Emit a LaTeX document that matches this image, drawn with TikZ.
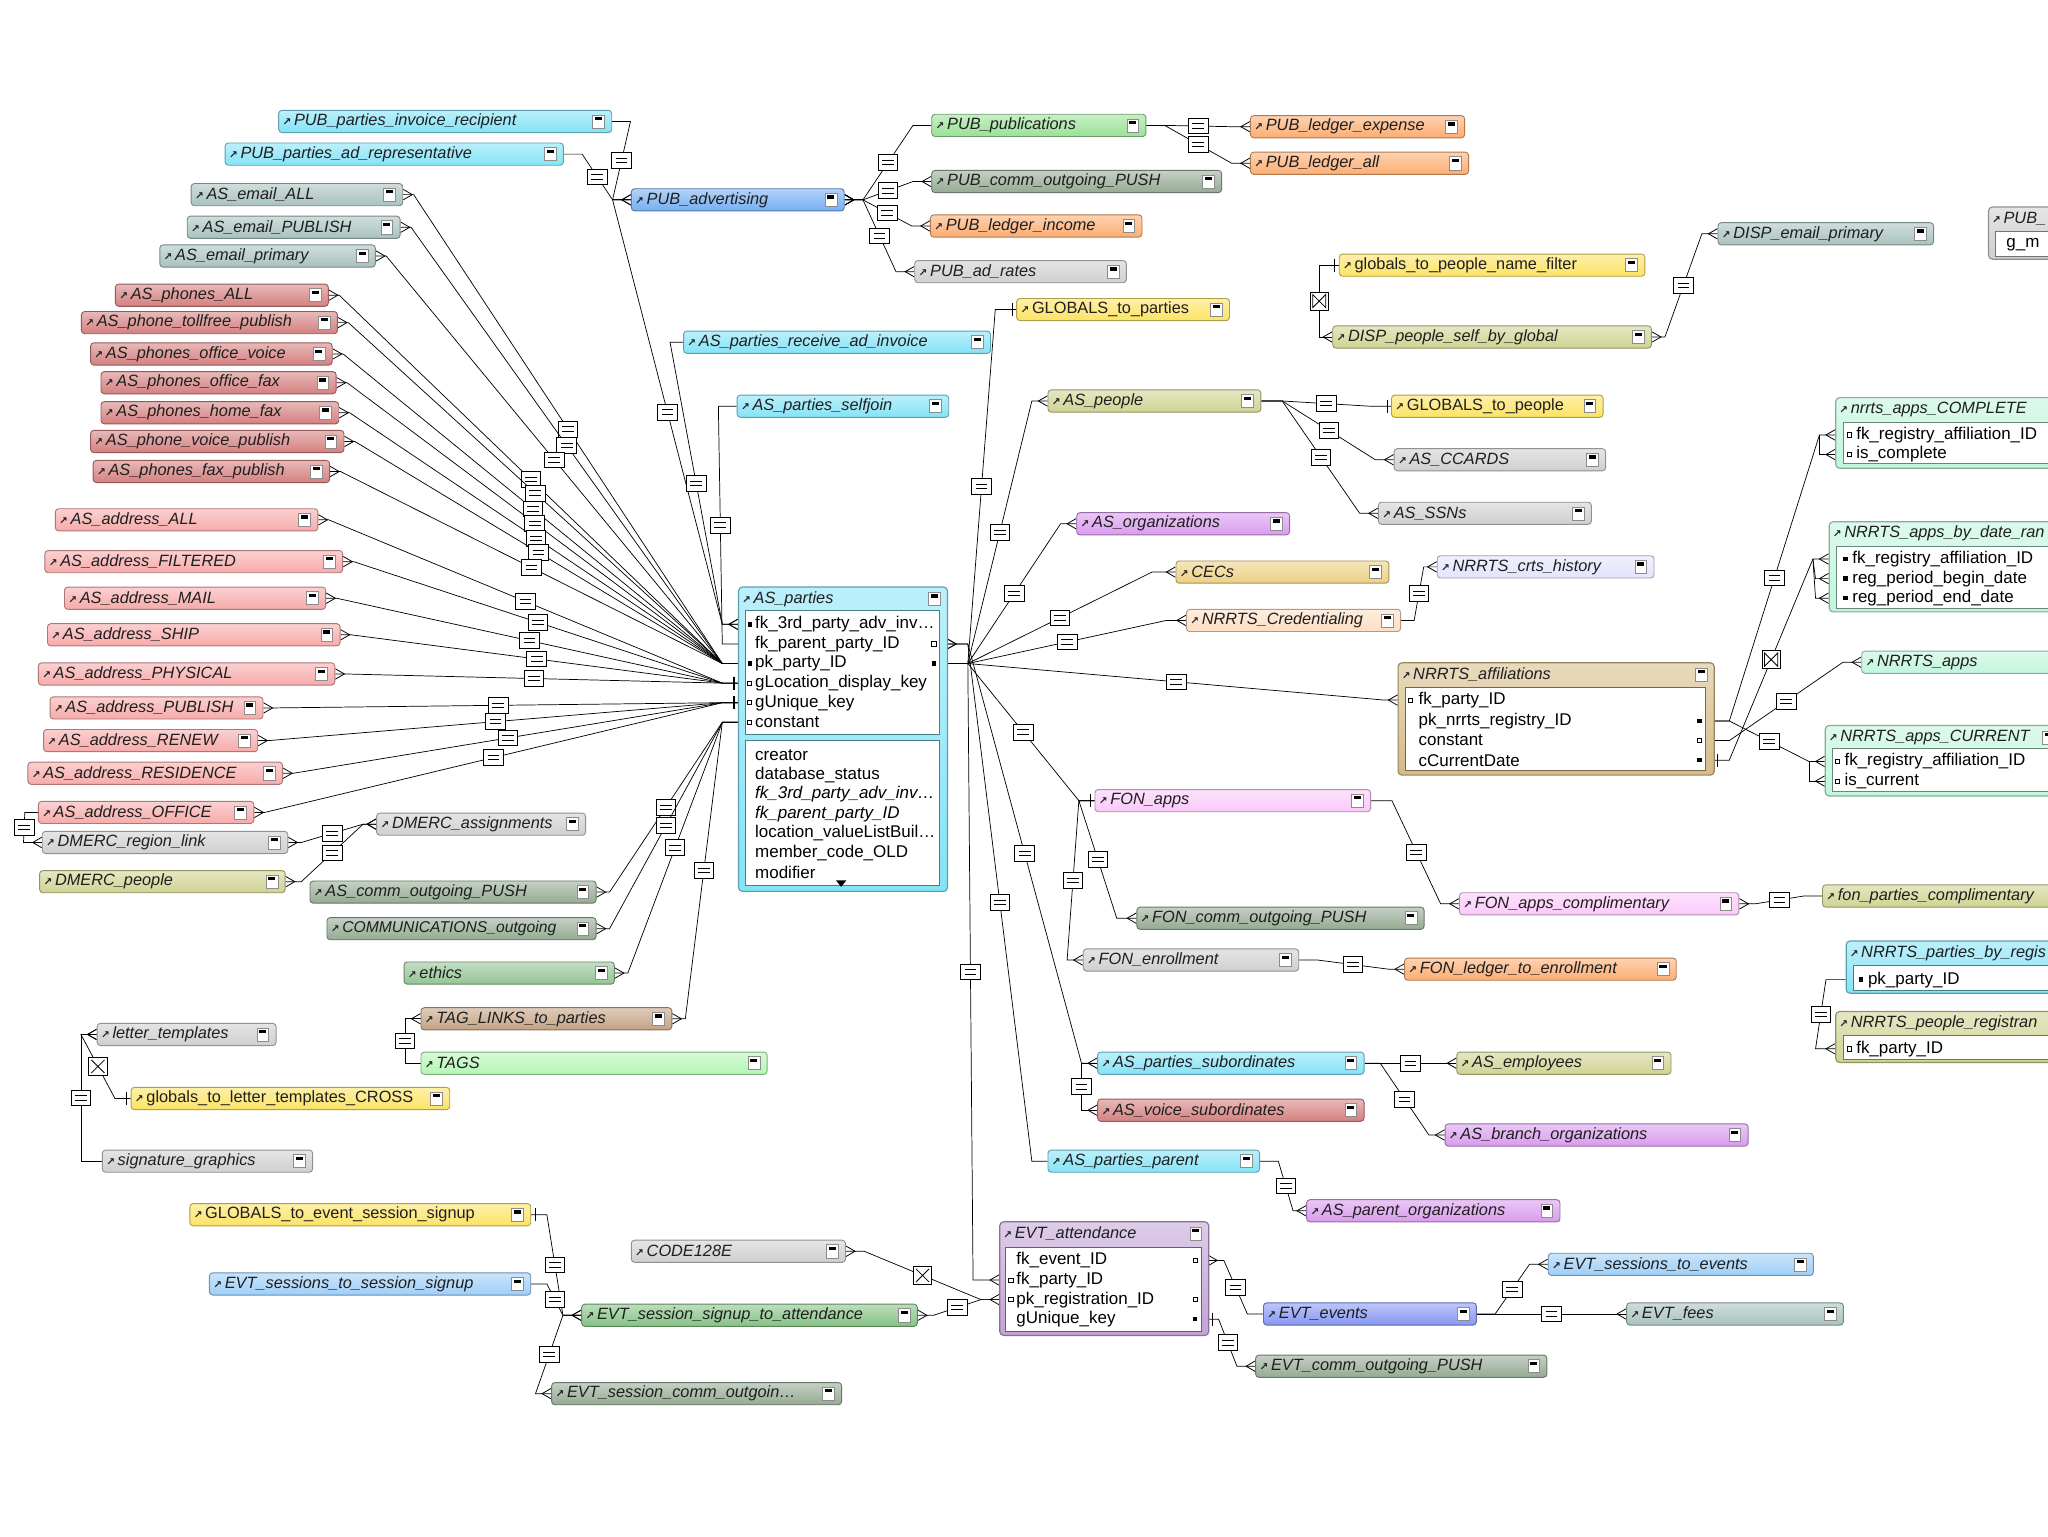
\documentclass[tikz,border=0pt]{standalone}
\usepackage{fontspec}
\setmainfont{Liberation Sans}
\newfontfamily\djv{DejaVu Sans}
\usetikzlibrary{calc}
\pgfdeclarelayer{bg}
\pgfsetlayers{bg,main}
\newcounter{rc}
\newcounter{fc}
\definecolor{cCyan}{HTML}{84E3F7}
\definecolor{cBlue}{HTML}{76AEF2}
\definecolor{cTeal}{HTML}{A8C2BF}
\definecolor{cRed}{HTML}{D4807F}
\definecolor{cPink}{HTML}{F7AAAA}
\definecolor{cGrey}{HTML}{CFCFCF}
\definecolor{cOlive}{HTML}{D0D392}
\definecolor{cDkGreen}{HTML}{95AA93}
\definecolor{cGreen}{HTML}{94C494}
\definecolor{cBrown}{HTML}{C4A284}
\definecolor{cLtGreen}{HTML}{B5F6B5}
\definecolor{cYellow}{HTML}{FCE364}
\definecolor{cLtBlue}{HTML}{9ECFF8}
\definecolor{cSigGreen}{HTML}{84C384}
\definecolor{cPubGreen}{HTML}{9AE197}
\definecolor{cOrange}{HTML}{FCAD72}
\definecolor{cPurple}{HTML}{D99BEE}
\definecolor{cCEC}{HTML}{EDD083}
\definecolor{cPeach}{HTML}{FDDEC3}
\definecolor{cLav}{HTML}{E3E3FE}
\definecolor{cTan}{HTML}{D5BC87}
\definecolor{cMint}{HTML}{C0F6DC}
\definecolor{cFon}{HTML}{FBC9FA}
\definecolor{cEvtP}{HTML}{C2A3D6}
\definecolor{cEvtE}{HTML}{8797F4}
\newcommand\nfont{\fontsize{12.5}{14}\selectfont\itshape}
\newcommand\ufont{\fontsize{12.5}{14}\selectfont\upshape}
\newcommand\ffont{\fontsize{13}{15}\selectfont\upshape}
\newcommand\fifont{\fontsize{13}{15}\selectfont\itshape}
\newcommand\ico{{\djv\fontsize{8}{8}\selectfont\bfseries\upshape ↗}}
\newcommand\minusicon[1]{%
 \draw[fill=white,draw=black!45,line width=0.4pt] ([xshift=-15pt,yshift=5pt]#1) rectangle ([xshift=-6pt,yshift=-5pt]#1);%
 \fill[black] ([xshift=-13.2pt,yshift=3.4pt]#1) rectangle ([xshift=-7.8pt,yshift=0.9pt]#1);}
\newcommand\T[7][]{\node[tb=#6,#1] (#2) at (#3,#5) {\makebox[\dimexpr#4pt-#3pt-6pt\relax][l]{\ico\,#7}};\minusicon{#2.east}}
\newcommand\TT[7]{\node[ttb=#6,minimum width={#3-#2},minimum height={#5-#4}] (#1) at (#2,#4) {};%
 \node[hdr] (#1h) at (#2+3,#4+9.5) {\ico\,#7};\coordinate (#1m) at ($(#1.north east)+(0,9.5)$);\minusicon{#1m}}
\newcommand\panel[5]{\draw[fill=white,draw=#5!55!black,line width=0.5pt] (#1,#2) rectangle (#3,#4);}
\newcommand\F[4][]{\stepcounter{fc}\node[fld,#1] (fld\arabic{fc}) at (#2,#3) {#4};}
\newcommand\mkf[2]{\fill[black] (#1-1.7,#2-1.7) rectangle (#1+1.7,#2+1.7);}
\newcommand\mko[2]{\draw[fill=white,line width=0.6pt] (#1-1.6,#2-1.6) rectangle (#1+1.6,#2+1.6);}
\newcommand\R[7][eqbox]{\stepcounter{rc}\begin{pgfonlayer}{bg}%
 \draw[rl] (#2) -- ++(#3,0) -- node[#1] (rel\arabic{rc}) {} ($(#4)+(#5,0)$) -- (#4);%
 \pic[xscale={#3/abs(#3)}] at (#2) {e#6};\pic[xscale={#5/abs(#5)}] at (#4) {e#7};\end{pgfonlayer}}
\tikzset{
 tb/.style={rectangle,rounded corners=2.5pt,draw=#1!70!black,line width=0.7pt,top color=#1!55!white,bottom color=#1,minimum height=17pt,inner xsep=3pt,inner ysep=0pt,anchor=west,font=\nfont,text=black!88},
 ttb/.style={rectangle,rounded corners=3pt,draw=#1!70!black,line width=0.9pt,top color=#1!55!white,bottom color=#1,anchor=north west,inner sep=0pt},
 hdr/.style={anchor=west,inner sep=0pt,font=\nfont,text=black!88},
 fld/.style={anchor=west,inner sep=0pt,font=\ffont,text=black},
 rl/.style={draw=black,line width=0.55pt},
 eqbox/.style={rectangle,draw=black,fill=white,line width=0.6pt,minimum width=15pt,minimum height=12pt,inner sep=0pt,
  path picture={\draw[line width=0.6pt] ([xshift=-4.5pt,yshift=1.7pt]path picture bounding box.center) -- ++(9pt,0pt) ([xshift=-4.5pt,yshift=-1.7pt]path picture bounding box.center) -- ++(9pt,0pt);}},
 xbox/.style={rectangle,draw=black,fill=white,line width=0.6pt,minimum width=14pt,minimum height=14pt,inner sep=0pt,
  path picture={\draw[line width=0.6pt] ([xshift=2pt,yshift=-2pt]path picture bounding box.north west) -- ([xshift=-2pt,yshift=2pt]path picture bounding box.south east) ([xshift=-2pt,yshift=-2pt]path picture bounding box.north east) -- ([xshift=2pt,yshift=2pt]path picture bounding box.south west);}},
 bowbox/.style={rectangle,draw=black,fill=white,line width=0.6pt,minimum width=14pt,minimum height=14pt,inner sep=0pt,
  path picture={\draw[line width=0.6pt] ([xshift=2pt,yshift=-2pt]path picture bounding box.north west) -- ([xshift=-2pt,yshift=2pt]path picture bounding box.south east) -- ([xshift=-2pt,yshift=-2pt]path picture bounding box.north east) -- ([xshift=2pt,yshift=2pt]path picture bounding box.south west) -- cycle;}},
 ec/.pic={\draw[line width=0.6pt] (0,-4) -- (7,0) -- (0,4);},
 eb/.pic={\draw[line width=0.9pt] (3,-5) -- (3,5);},
 en/.pic={},
}
\begin{document}
\begin{tikzpicture}[x=1pt,y=-1pt]
\useasboundingbox (0,0) rectangle (1568,1176);
\begin{pgfonlayer}{bg}\fill[white] (0,0) rectangle (1568,1176);\end{pgfonlayer}
% ---------- left column
\T{pubInv}{213}{468}{93}{cCyan}{PUB\_parties\_invoice\_recipient}
\T{pubAdRep}{172}{431}{118}{cCyan}{PUB\_parties\_ad\_representative}
\T{emailALL}{146}{308}{149}{cTeal}{AS\_email\_ALL}
\T{emailPUB}{143}{306}{174}{cTeal}{AS\_email\_PUBLISH}
\T{emailPri}{122}{287}{196}{cTeal}{AS\_email\_primary}
\T{phALL}{88}{251}{226}{cRed}{AS\_phones\_ALL}
\T{phToll}{62}{258}{247}{cRed}{AS\_phone\_tollfree\_publish}
\T{phOV}{69}{254}{271}{cRed}{AS\_phones\_office\_voice}
\T{phOF}{77}{257}{293}{cRed}{AS\_phones\_office\_fax}
\T{phHF}{77}{259}{316}{cRed}{AS\_phones\_home\_fax}
\T{phVP}{69}{263}{338}{cRed}{AS\_phone\_voice\_publish}
\T{phFP}{71}{252}{361}{cRed}{AS\_phones\_fax\_publish}
\T{adALL}{42}{243}{398}{cPink}{AS\_address\_ALL}
\T{adFIL}{34}{262}{430}{cPink}{AS\_address\_FILTERED}
\T{adMAIL}{49}{249}{458}{cPink}{AS\_address\_MAIL}
\T{adSHIP}{36}{260}{486}{cPink}{AS\_address\_SHIP}
\T{adPHY}{29}{256}{516}{cPink}{AS\_address\_PHYSICAL}
\T{adPUB}{38}{201}{542}{cPink}{AS\_address\_PUBLISH}
\T{adREN}{33}{197}{567}{cPink}{AS\_address\_RENEW}
\T{adRES}{21}{216}{592}{cPink}{AS\_address\_RESIDENCE}
\T{adOFF}{29}{194}{622}{cPink}{AS\_address\_OFFICE}
\T{dmRL}{32}{220}{645}{cGrey}{DMERC\_region\_link}
\T{dmPeo}{30}{218}{675}{cOlive}{DMERC\_people}
\T{dmAsg}{288}{448}{631}{cGrey}{DMERC\_assignments}
\T{asComm}{237}{456}{683}{cDkGreen}{AS\_comm\_outgoing\_PUSH}
\T[font=\fontsize{12}{14}\selectfont\itshape]{commOut}{250}{456}{711}{cDkGreen}{COMMUNICATIONS\_outgoing}
\T{ethics}{309}{470}{745}{cGreen}{ethics}
\T{tagLinks}{322}{514}{780}{cBrown}{TAG\_LINKS\_to\_parties}
\T{tags}{322}{587}{814}{cLtGreen}{TAGS}
\T{letterT}{74}{211}{792}{cGrey}{letter\_templates}
\T[font=\ufont]{glLetter}{100}{344}{841}{cYellow}{globals\_to\_letter\_templates\_CROSS}
\T{sigG}{78}{239}{889}{cGrey}{signature\_graphics}
\T[font=\ufont]{glEvt}{145}{406}{930}{cYellow}{GLOBALS\_to\_event\_session\_signup}
\T{evtSSS}{160}{406}{983}{cLtBlue}{EVT\_sessions\_to\_session\_signup}
\T{evtSSA}{445}{702}{1007}{cSigGreen}{EVT\_session\_signup\_to\_attendance}
\T{evtSCO}{422}{644}{1067}{cDkGreen}{EVT\_session\_comm\_outgoin…}
\T{code128}{483}{647}{958}{cGrey}{CODE128E}
% ---------- top middle
\T{pubAdv}{483}{646}{153}{cBlue}{PUB\_advertising}
\T{pubPub}{713}{877}{96}{cPubGreen}{PUB\_publications}
\T{pubComm}{713}{935}{139}{cDkGreen}{PUB\_comm\_outgoing\_PUSH}
\T{pubLI}{712}{874}{173}{cOrange}{PUB\_ledger\_income}
\T{pubRates}{700}{862}{208}{cGrey}{PUB\_ad\_rates}
\T{pubLE}{957}{1121}{97}{cOrange}{PUB\_ledger\_expense}
\T{pubLA}{957}{1124}{125}{cOrange}{PUB\_ledger\_all}
\T{recvInv}{523}{758}{262}{cCyan}{AS\_parties\_receive\_ad\_invoice}
\T{selfjoin}{564}{726}{311}{cCyan}{AS\_parties\_selfjoin}
\T[font=\ufont]{glParties}{778}{941}{237}{cYellow}{GLOBALS\_to\_parties}
\T[font=\ufont]{glNameF}{1025}{1259}{203}{cYellow}{globals\_to\_people\_name\_filter}
\T{dispSelf}{1020}{1264}{258}{cOlive}{DISP\_people\_self\_by\_global}
\T{dispEmail}{1315}{1480}{179}{cTeal}{DISP\_email\_primary}
% ---------- right of centre
\T{people}{802}{965}{307}{cOlive}{AS\_people}
\T[font=\ufont]{glPeople}{1065}{1227}{311}{cYellow}{GLOBALS\_to\_people}
\T{ccards}{1067}{1229}{352}{cGrey}{AS\_CCARDS}
\T{ssns}{1055}{1218}{393}{cGrey}{AS\_SSNs}
\T{orgs}{824}{987}{401}{cPurple}{AS\_organizations}
\T{cecs}{900}{1063}{438}{cCEC}{CECs}
\T{cred}{908}{1072}{475}{cPeach}{NRRTS\_Credentialing}
\T{crts}{1100}{1266}{434}{cLav}{NRRTS\_crts\_history}
\T{fonApps}{838}{1049}{613}{cFon}{FON\_apps}
\T{fonComm}{870}{1090}{703}{cDkGreen}{FON\_comm\_outgoing\_PUSH}
\T{fonComp}{1117}{1331}{692}{cFon}{FON\_apps\_complimentary}
\T{fonpc}{1395}{1640}{686}{cOlive}{fon\_parties\_complimentary}
\T{fonEnr}{829}{994}{735}{cGrey}{FON\_enrollment}
\T{fonLedger}{1075}{1283}{742}{cOrange}{FON\_ledger\_to\_enrollment}
\T{subs}{840}{1044}{814}{cCyan}{AS\_parties\_subordinates}
\T{emps}{1115}{1279}{814}{cOlive}{AS\_employees}
\T{vsubs}{840}{1044}{850}{cRed}{AS\_voice\_subordinates}
\T{branch}{1106}{1338}{869}{cPurple}{AS\_branch\_organizations}
\T{parent}{802}{964}{889}{cCyan}{AS\_parties\_parent}
\T{parentOrg}{1000}{1194}{927}{cPurple}{AS\_parent\_organizations}
\T{evtEvents}{967}{1130}{1006}{cEvtE}{EVT\_events}
\T{evtSTE}{1185}{1388}{968}{cLtBlue}{EVT\_sessions\_to\_events}
\T{evtFees}{1245}{1411}{1006}{cTeal}{EVT\_fees}
\T{evtComm}{961}{1184}{1046}{cDkGreen}{EVT\_comm\_outgoing\_PUSH}
\T{napps}{1425}{1640}{507}{cMint}{NRRTS\_apps}
% ---------- tables with fields
\TT{parties}{565}{725}{449}{682}{cCyan}{AS\_parties}
\panel{571}{467}{719}{562}{cCyan}
\panel{571}{567}{719}{678}{cCyan}
\F{578}{478}{fk\_3rd\_party\_adv\_inv…}
\F{578}{493}{fk\_parent\_party\_ID}
\F{578}{508}{pk\_party\_ID}
\F{578}{523}{gLocation\_display\_key}
\F{578}{538}{gUnique\_key}
\F{578}{553}{constant}
\F{578}{578}{creator}
\F{578}{593}{database\_status}
\F[font=\fifont]{578}{608}{fk\_3rd\_party\_adv\_inv…}
\F[font=\fifont]{578}{623}{fk\_parent\_party\_ID}
\F{578}{638}{location\_valueListBuil…}
\F{578}{653}{member\_code\_OLD}
\F{578}{668}{modifier}
\mkf{574}{478}\mkf{574}{508}\mko{574}{523}\mko{574}{538}\mko{574}{553}
\mko{715}{493}\mkf{715}{508}
\fill[black] (640,674) -- (648,674) -- (644,679) -- cycle;
\TT{affil}{1070}{1312}{507}{593}{cTan}{NRRTS\_affiliations}
\panel{1076}{526}{1306}{590}{cTan}
\F{1086}{536}{fk\_party\_ID}
\F{1086}{552}{pk\_nrrts\_registry\_ID}
\F{1086}{567}{constant}
\F{1086}{582}{cCurrentDate}
\mko{1080}{536}\mkf{1301}{552}\mko{1301}{567}\mkf{1301}{582}
\TT{attend}{765}{925}{935}{1022}{cEvtP}{EVT\_attendance}
\panel{770}{955}{920}{1019}{cEvtP}
\F{778}{965}{fk\_event\_ID}
\F{778}{980}{fk\_party\_ID}
\F{778}{995}{pk\_registration\_ID}
\F{778}{1010}{gUnique\_key}
\mko{915}{965}\mko{774}{980}\mko{774}{995}\mko{915}{995}\mkf{915}{1010}
\TT{complete}{1405}{1620}{304}{358}{cMint}{nrrts\_apps\_COMPLETE}
\panel{1411}{323}{1615}{355}{cMint}
\F{1421}{333}{fk\_registry\_affiliation\_ID}
\F{1421}{348}{is\_complete}
\mko{1416}{333}\mko{1416}{348}
\TT{bydate}{1400}{1620}{399}{468}{cMint}{NRRTS\_apps\_by\_date\_ran}
\panel{1406}{418}{1615}{466}{cMint}
\F{1418}{428}{fk\_registry\_affiliation\_ID}
\F{1418}{443}{reg\_period\_begin\_date}
\F{1418}{458}{reg\_period\_end\_date}
\mkf{1413}{428}\mkf{1413}{443}\mkf{1413}{458}
\TT{current}{1397}{1578}{555}{609}{cMint}{NRRTS\_apps\_CURRENT}
\panel{1403}{573}{1615}{606}{cMint}
\F{1412}{583}{fk\_registry\_affiliation\_ID}
\F{1412}{598}{is\_current}
\mko{1407}{583}\mko{1407}{598}
\TT{pbyreg}{1413}{1620}{720}{760}{cCyan}{NRRTS\_parties\_by\_regis}
\panel{1419}{739}{1615}{758}{cCyan}
\F{1430}{750}{pk\_party\_ID}
\mkf{1425}{750}
\TT{preg}{1405}{1620}{774}{813}{cOlive}{NRRTS\_people\_registran}
\panel{1411}{793}{1615}{811}{cOlive}
\F{1421}{803}{fk\_party\_ID}
\mko{1416}{803}
\TT{pubx}{1522}{1620}{158}{198}{cGrey}{PUB\_}
\panel{1528}{177}{1615}{196}{cGrey}
\F{1536}{187}{g\_m}
% ---------- field coordinates
\coordinate (pL1) at (565,478);\coordinate (pL2) at (565,493);\coordinate (pL3) at (565,508);
\coordinate (pL4) at (565,523);\coordinate (pL5) at (565,538);\coordinate (pL6) at (565,553);
\coordinate (pR2) at (725,493);\coordinate (pR3) at (725,508);
\coordinate (aL1) at (1070,536);\coordinate (aR2) at (1312,552);\coordinate (aR3) at (1312,567);\coordinate (aR4) at (1312,582);
\coordinate (eR1) at (925,965);\coordinate (eL2) at (765,980);\coordinate (eL3) at (765,995);\coordinate (eR4) at (925,1010);
\coordinate (cL1) at (1405,333);\coordinate (cL2) at (1405,348);
\coordinate (dL1) at (1400,428);\coordinate (dL2) at (1400,443);\coordinate (dL3) at (1400,458);
\coordinate (uL1) at (1397,583);\coordinate (uL2) at (1397,598);
\coordinate (bL1) at (1413,750);\coordinate (gL1) at (1405,803);
% ---------- relationships: left hub
\R{emailALL.east}{8}{pL3}{-12}{c}{n}
\R{emailPUB.east}{8}{pL3}{-12}{c}{n}
\R{emailPri.east}{8}{pL3}{-12}{c}{n}
\R{phALL.east}{8}{pL3}{-12}{c}{n}
\R{phToll.east}{8}{pL3}{-12}{c}{n}
\R{phOV.east}{8}{pL3}{-12}{c}{n}
\R{phOF.east}{8}{pL3}{-12}{c}{n}
\R{phHF.east}{8}{pL3}{-12}{c}{n}
\R{phVP.east}{8}{pL3}{-12}{c}{n}
\R{phFP.east}{8}{pL3}{-12}{c}{n}
\R{adALL.east}{8}{pL4}{-12}{c}{b}
\R{adFIL.east}{8}{pL4}{-12}{c}{b}
\R{adMAIL.east}{8}{pL4}{-12}{c}{b}
\R{adSHIP.east}{8}{pL4}{-12}{c}{b}
\R{adPHY.east}{8}{pL4}{-12}{c}{b}
\R{adPUB.east}{8}{pL5}{-12}{c}{b}
\R{adREN.east}{8}{pL5}{-12}{c}{b}
\R{adRES.east}{8}{pL5}{-12}{c}{b}
\R{adOFF.east}{8}{pL5}{-12}{c}{b}
\R{asComm.east}{10}{pL6}{-12}{c}{n}
\R{commOut.east}{10}{pL6}{-12}{c}{n}
\R{ethics.east}{10}{pL6}{-12}{c}{n}
\R{tagLinks.east}{10}{pL6}{-12}{c}{n}
\R{pubAdv.west}{-14}{pL1}{-12}{n}{c}
\R{recvInv.west}{-10}{pL1}{-12}{n}{c}
\R{selfjoin.west}{-14}{pL2}{-12}{n}{n}
\R{pubInv.east}{14}{pubAdv.west}{-14}{n}{c}
\R{pubAdRep.east}{14}{pubAdv.west}{-14}{n}{c}
% ---------- right hub
\R{pR3}{16}{glParties.west}{-16}{n}{b}
\R{pR3}{16}{people.west}{-12}{n}{c}
\R{pR3}{16}{orgs.west}{-12}{n}{c}
\R{pR3}{16}{cecs.west}{-18}{n}{c}
\R{pR3}{16}{cred.west}{-15}{n}{c}
\R{pR3}{16}{aL1}{-10}{n}{c}
\R{pR3}{16}{fonApps.west}{-12}{n}{b}
\R{pR2}{16}{subs.west}{-12}{c}{c}
\R{pR2}{16}{parent.west}{-12}{c}{n}
\R{pR3}{16}{eL2}{-20}{n}{c}
\R{subs.west}{-12}{vsubs.west}{-12}{n}{c}
\R{fonApps.west}{-12}{fonComm.west}{-15}{n}{c}
\R{fonApps.west}{-12}{fonEnr.west}{-12}{n}{c}
\R{fonApps.east}{16}{fonComp.west}{-14}{n}{c}
\R{fonComp.east}{12}{fonpc.west}{-14}{c}{n}
\R{fonEnr.east}{14}{fonLedger.west}{-12}{n}{c}
\R{people.east}{16}{glPeople.west}{-16}{n}{b}
\R{people.east}{16}{ccards.west}{-14}{n}{c}
\R{people.east}{16}{ssns.west}{-14}{n}{c}
\R{cred.east}{10}{crts.west}{-10}{n}{c}
\R[bowbox]{glNameF.west}{-15}{dispSelf.west}{-10}{b}{c}
\R{dispSelf.east}{10}{dispEmail.west}{-12}{c}{c}
\R{pubAdv.east}{14}{pubPub.west}{-14}{c}{n}
\R{pubAdv.east}{14}{pubComm.west}{-14}{c}{c}
\R{pubAdv.east}{14}{pubLI.west}{-14}{c}{c}
\R{pubAdv.east}{14}{pubRates.west}{-14}{c}{c}
\R{pubPub.east}{14}{pubLE.west}{-14}{n}{c}
\R{pubPub.east}{14}{pubLA.west}{-14}{n}{c}
\R{subs.east}{12}{emps.west}{-12}{n}{c}
\R{subs.east}{12}{branch.west}{-12}{n}{c}
\R{parent.east}{14}{parentOrg.west}{-10}{n}{c}
\R{aR2}{12}{cL1}{-12}{n}{c}
\R[bowbox]{aR4}{12}{dL1}{-12}{b}{c}
\R{aR3}{12}{napps.west}{-14}{n}{c}
\R{aR2}{12}{uL1}{-12}{n}{c}
\R{bL1}{-15}{gL1}{-15}{n}{c}
\begin{pgfonlayer}{bg}
\draw[rl] ($(cL1)+(-12,0)$) -- ($(cL2)+(-12,0)$) -- (cL2);
\draw[rl] ($(dL1)+(-12,0)$) -- ($(dL2)+(-10,0)$) -- (dL2);
\draw[rl] ($(dL1)+(-12,0)$) -- ($(dL3)+(-10,0)$) -- (dL3);
\draw[rl] ($(uL1)+(-12,0)$) -- ($(uL2)+(-12,0)$) -- (uL2);
\pic[xscale=-1] at (cL2) {ec};\pic[xscale=-1] at (dL2) {ec};\pic[xscale=-1] at (dL3) {ec};\pic[xscale=-1] at (uL2) {ec};
\end{pgfonlayer}
% ---------- events
\R{eR1}{12}{evtEvents.west}{-12}{c}{n}
\R{eR4}{8}{evtComm.west}{-14}{b}{c}
\R{evtEvents.east}{14}{evtSTE.west}{-14}{n}{c}
\R{evtEvents.east}{14}{evtFees.west}{-14}{n}{c}
\R{evtSSA.east}{12}{eL3}{-14}{c}{c}
\R[xbox]{code128.east}{14}{eL3}{-14}{c}{n}
\R{glEvt.east}{12}{evtSSA.west}{-14}{b}{c}
\R{evtSSS.east}{12}{evtSSA.west}{-14}{n}{c}
\R{evtSSA.west}{-14}{evtSCO.west}{-12}{n}{c}
% ---------- letters, tags, dmerc
\R[xbox]{letterT.west}{-12}{glLetter.west}{-12}{c}{b}
\R{letterT.west}{-12}{sigG.west}{-16}{c}{n}
\R{tagLinks.west}{-12}{tags.west}{-12}{c}{n}
\R{dmRL.east}{10}{dmAsg.west}{-10}{c}{c}
\R{dmPeo.east}{12}{dmAsg.west}{-10}{c}{c}
\R{adOFF.west}{-10}{dmRL.west}{-14}{n}{c}
\end{tikzpicture}
\end{document}
